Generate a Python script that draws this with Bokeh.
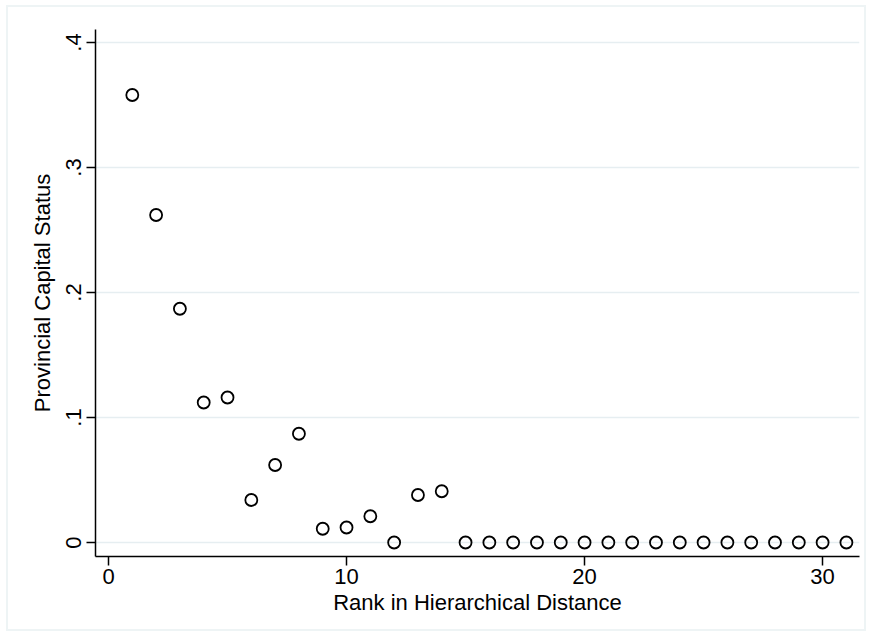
from bokeh.plotting import figure
from bokeh.models import FixedTicker, Range1d, ColumnDataSource
from bokeh.embed import file_html
from bokeh.resources import INLINE

rank = list(range(1, 32))
capital_status = [0.358, 0.262, 0.187, 0.112, 0.116, 0.034, 0.062, 0.087, 0.011, 0.012,
                  0.021, 0.0, 0.038, 0.041] + [0.0] * 17
x_ticks = [0, 10, 20, 30]
y_ticks = [0, 0.1, 0.2, 0.3, 0.4]
y_tick_labels = ["0", ".1", ".2", ".3", ".4"]

FONT = "Liberation Sans"
FS = "22px"

src = ColumnDataSource(dict(x=rank, y=capital_status))

p = figure(width=860, height=626, output_backend="svg", toolbar_location=None,
           x_range=Range1d(-0.546, 31.55), y_range=Range1d(-0.0112, 0.4104),
           min_border_left=87, min_border_right=9, min_border_top=22, min_border_bottom=77)
p.background_fill_color = "white"
p.border_fill_color = "white"
p.outline_line_color = None
p.styles = {"border": "2px solid #EEF4F5", "margin-left": "6px", "margin-top": "5px"}

p.scatter("x", "y", source=src, size=12, fill_color=None, line_color="black", line_width=1.8)

p.xaxis.ticker = FixedTicker(ticks=x_ticks)
p.yaxis.ticker = FixedTicker(ticks=y_ticks)
p.yaxis.major_label_overrides = {t: l for t, l in zip(y_ticks, y_tick_labels)}
p.yaxis.major_label_orientation = "vertical"

for ax in (p.xaxis, p.yaxis):
    ax.axis_line_color = "black"
    ax.axis_line_width = 1.5
    ax.major_tick_line_color = "black"
    ax.major_tick_line_width = 1.5
    ax.major_tick_out = 9
    ax.major_tick_in = 0
    ax.minor_tick_line_color = None
    ax.major_label_text_font = FONT
    ax.major_label_text_font_size = FS
    ax.major_label_text_color = "black"
    ax.axis_label_text_font = FONT
    ax.axis_label_text_font_size = FS
    ax.axis_label_text_font_style = "normal"
    ax.axis_label_text_color = "black"

p.xaxis.axis_label = "Rank in Hierarchical Distance"
p.yaxis.axis_label = "Provincial Capital Status"
p.xaxis.major_label_standoff = 3
p.xaxis.axis_label_standoff = 3
p.yaxis.major_label_standoff = 6
p.yaxis.axis_label_standoff = 8

p.xgrid.grid_line_color = None
p.ygrid.grid_line_color = "#E6EEF1"
p.ygrid.grid_line_width = 1.5

open("out.html", "w").write(file_html(p, INLINE))
